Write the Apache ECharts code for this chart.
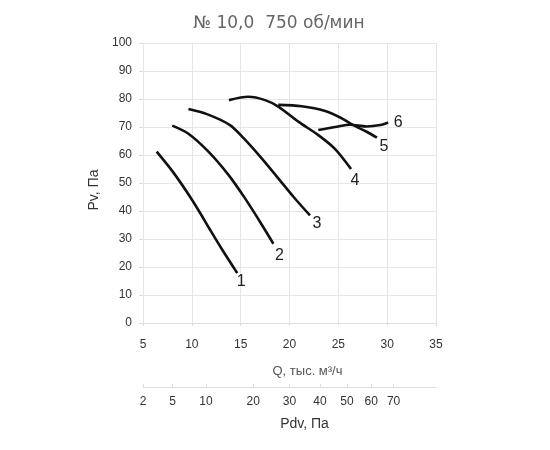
<!DOCTYPE html>
<html>
<head>
<meta charset="utf-8">
<script src="https://cdn.jsdelivr.net/npm/echarts@6/dist/echarts.min.js"></script>
<style>html,body{margin:0;padding:0;background:#fff}#c{width:550px;height:450px}</style>
</head>
<body>
<div id="c"></div>
<script>
var titleText = '№ 10,0  750 об/мин';
var seriesNames = ['1','2','3','4','5','6'];
var curve1 = [[6.4,61.2],[8.1,53.8],[9.8,45.2],[10.85,39.3],[11.85,33.4],[13.05,26.5],[14.65,17.8]];
var curve2 = [[8.0,70.5],[9.65,67.6],[11.7,61.2],[13.75,52.9],[15.45,44.5],[17.15,35.2],[18.35,28.3]];
var curve3 = [[9.65,76.4],[11.55,74.6],[13.9,70.7],[15.3,66.0],[17.0,59.4],[18.7,52.3],[20.4,45.1],[22.1,38.4]];
var curve4 = [[13.8,79.6],[15.8,80.8],[17.5,79.6],[18.85,77.3],[20.9,71.9],[22.95,67.1],[24.65,62.2],[26.3,55.0]];
var curve5 = [[18.85,77.9],[21.25,77.4],[23.65,75.7],[25.35,73.1],[26.4,70.9],[27.9,68.3],[28.95,66.2]];
var curve6 = [[22.95,68.9],[24.85,70.1],[26.2,70.8],[27.9,70.2],[29.3,70.7],[30.1,71.6]];
var curves = [curve1, curve2, curve3, curve4, curve5, curve6];
var labelOffsets = [[4,8],[6,12],[7,8],[4,12],[7,9],[10,0]];
var pdvTicks = [2,5,10,20,30,40,50,60,70];
// Pdv scale: Q position proportional to sqrt(Pdv)
function pdvToQ(p){ return 3.69*Math.sqrt(p) - 0.215; }
var pdvQ = pdvTicks.map(pdvToQ);

var chart = echarts.init(document.getElementById('c'));
var tickFont = {fontFamily:'Liberation Sans', fontSize:12, color:'#333'};
var series = curves.map(function(d, i){
  return {
    type:'line', name: seriesNames[i], data:d, smooth:0.3, symbol:'none',
    lineStyle:{color:'#111', width:2.6},
    endLabel:{show:true, formatter:seriesNames[i], distance:0, offset:labelOffsets[i],
      align:'center', verticalAlign:'middle', fontFamily:'Liberation Sans', fontSize:16, color:'#222'},
    xAxisIndex:0, yAxisIndex:0, silent:true, animation:false
  };
});
series.push({type:'line', data:[], xAxisIndex:1, yAxisIndex:0});
chart.setOption({
  animation:false,
  title:{text:titleText, left:274, top:10, textAlign:'center',
    textStyle:{fontFamily:'DejaVu Sans', fontSize:17, fontWeight:'normal', color:'#666'}},
  grid:{left:143, right:114, top:43, bottom:127},
  xAxis:[{
    type:'value', min:5, max:35, interval:5,
    axisLine:{lineStyle:{color:'#ddd'}}, axisTick:{show:true, length:3, lineStyle:{color:'#ddd'}},
    splitLine:{lineStyle:{color:'#e6e6e6'}},
    axisLabel:Object.assign({margin:16}, tickFont),
    name:'Q, тыс. м³/ч', nameLocation:'middle', nameGap:42,
    nameTextStyle:{fontFamily:'Liberation Sans', fontSize:13, color:'#555', padding:[0,0,0,36]}
  },{
    type:'value', min:5, max:35, position:'bottom', offset:64,
    axisLine:{show:true, lineStyle:{color:'#ddd'}},
    axisTick:{show:true, length:3, inside:true, customValues:pdvQ, lineStyle:{color:'#ddd'}},
    splitLine:{show:false},
    axisLabel:Object.assign({margin:9, showMinLabel:true, customValues:pdvQ, formatter:function(v){
      var best=0; for(var k=0;k<pdvQ.length;k++){ if(Math.abs(pdvQ[k]-v)<Math.abs(pdvQ[best]-v)) best=k; }
      return String(pdvTicks[best]); }}, tickFont),
    name:'Pdv, Па', nameLocation:'middle', nameGap:30,
    nameTextStyle:{fontFamily:'Liberation Sans', fontSize:14, color:'#333', padding:[0,0,0,30]}
  }],
  yAxis:{
    type:'value', min:0, max:100, interval:10,
    axisLine:{show:false}, axisTick:{show:true, length:4, lineStyle:{color:'#ddd'}},
    splitLine:{lineStyle:{color:'#e6e6e6'}},
    axisLabel:Object.assign({margin:11}, tickFont),
    name:'Pv, Па', nameLocation:'middle', nameGap:28,
    nameTextStyle:{fontFamily:'Liberation Sans', fontSize:14, color:'#333', padding:[0,0,0,-14]}
  },
  series:series
});
</script>
</body>
</html>
